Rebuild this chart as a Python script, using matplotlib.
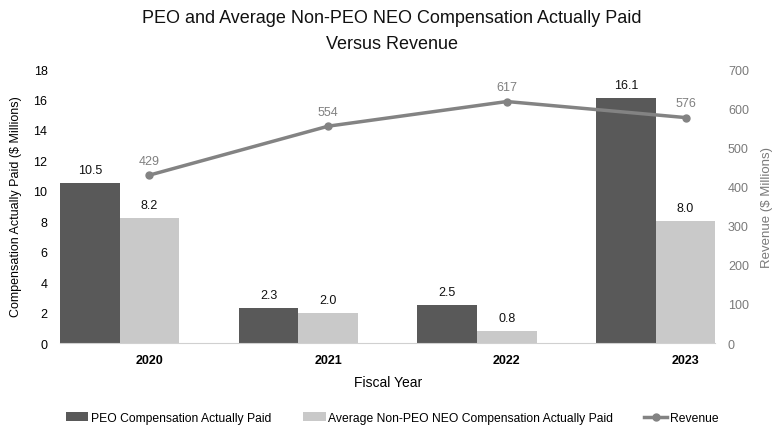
import numpy as np
import matplotlib
matplotlib.use('Agg')
import matplotlib.pyplot as plt

plt.rcParams['font.family'] = ['Liberation Sans', 'DejaVu Sans']

# Data
years = ['2020', '2021', '2022', '2023']
peo_cap = [10.5, 2.3, 2.5, 16.1]
neo_cap = [8.2, 2.0, 0.8, 8.0]
revenue = [429, 554, 617, 576]

dark = '#595959'
light = '#c9c9c9'
line_col = '#838383'

fig = plt.figure(figsize=(7.84, 4.35), dpi=100)
ax = fig.add_axes([0.0765, 0.209, 0.836, 0.630])

x = np.arange(len(years))
w = 1 / 3

b1 = ax.bar(x - w, peo_cap, w, color=dark, label='PEO Compensation Actually Paid')
b2 = ax.bar(x, neo_cap, w, color=light, label='Average Non-PEO NEO Compensation Actually Paid')

for xi, v in zip(x - w, peo_cap):
    ax.text(xi, v + 0.45, f'{v:.1f}', ha='center', va='bottom', fontsize=9, color='#111111')
for xi, v in zip(x, neo_cap):
    ax.text(xi, v + 0.45, f'{v:.1f}', ha='center', va='bottom', fontsize=9, color='#111111')

ax.set_xlim(-0.5, 3 + w / 2)
ax.set_ylim(0, 18)
ax.set_yticks(range(0, 19, 2))
ax.set_xticks(x)
ax.set_xticklabels(years, fontweight='bold', fontsize=9)
ax.tick_params(axis='x', length=0, pad=8)
ax.tick_params(axis='y', length=0, labelsize=9, pad=9)
ax.set_xlabel('Fiscal Year', fontsize=10, labelpad=6)
ax.set_ylabel('Compensation Actually Paid ($ Millions)', fontsize=9, labelpad=8)
for s in ['top', 'right', 'left']:
    ax.spines[s].set_visible(False)
ax.spines['bottom'].set_color('#d0d0d0')

ax2 = ax.twinx()
ln, = ax2.plot(x, revenue, color=line_col, lw=2.5, marker='o', markersize=5, label='Revenue')
for xi, v in zip(x, revenue):
    ax2.text(xi, v + 22, str(v), ha='center', va='bottom', fontsize=9, color='#808080')
ax2.set_ylim(0, 700)
ax2.set_yticks(range(0, 701, 100))
ax2.tick_params(axis='y', length=0, labelsize=9, colors='#7a7a7a', pad=9)
ax2.set_ylabel('Revenue ($ Millions)', fontsize=9.5, color='#7a7a7a', labelpad=9)
for s in ax2.spines.values():
    s.set_visible(False)

fig.suptitle('PEO and Average Non-PEO NEO Compensation Actually Paid\nVersus Revenue',
             fontsize=13, y=0.978, color='#111111', linespacing=1.75)

fig.legend(handles=[b1, b2, ln], loc='center', bbox_to_anchor=(0.5, 0.037), ncol=3,
           frameon=False, fontsize=8.7, handlelength=1.9, columnspacing=2.6, handletextpad=0.2)

fig.savefig('out.png', dpi=100)
